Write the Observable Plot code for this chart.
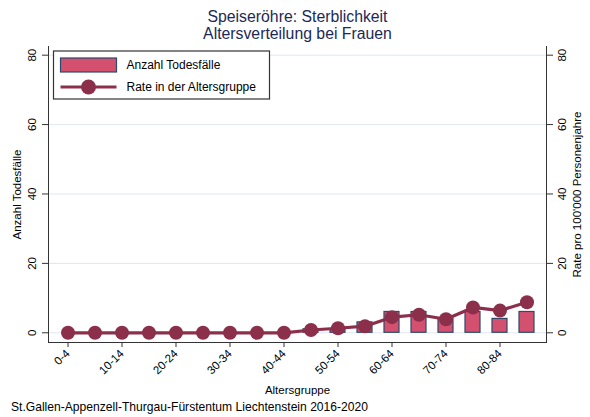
<!DOCTYPE html>
<html>
<head>
<meta charset="utf-8">
<script src="https://cdn.jsdelivr.net/npm/d3@7"></script>
<script src="https://cdn.jsdelivr.net/npm/@observablehq/plot@0.6"></script>
<style>
  html, body { margin: 0; padding: 0; background: #fff; }
  body { width: 590px; height: 417px; position: relative; overflow: hidden; font-family: "Liberation Sans", Arial, sans-serif; }
  #title { position: absolute; left: 0; top: 7.5px; width: 595px; text-align: center; font-size: 15.8px; line-height: 17.7px; color: #1b2a55; }
  #chart { position: absolute; left: 0; top: 40px; }
  #caption { position: absolute; left: 11px; top: 401px; font-size: 12.1px; line-height: 12px; color: #000; white-space: nowrap; }
</style>
</head>
<body>
<div id="title">Speiseröhre: Sterblichkeit<br>Altersverteilung bei Frauen</div>
<div id="chart"></div>
<div id="caption">St.Gallen-Appenzell-Thurgau-Fürstentum Liechtenstein 2016-2020</div>
<script>
const categories = ["0-4","5-9","10-14","15-19","20-24","25-29","30-34","35-39","40-44","45-49","50-54","55-59","60-64","65-69","70-74","75-79","80-84","85+"];
const deaths = [0,0,0,0,0,0,0,0,0,1,1,3,6,6,4,6,4,6];
const rates = [0,0,0,0,0,0,0,0,0,0.8,1.3,1.9,4.5,5.2,3.9,7.3,6.4,8.8];
const xTickLabels = ["0-4","10-14","20-24","30-34","40-44","50-54","60-64","70-74","80-84"];
const yTicks = [0,20,40,60,80];
const legendLabels = ["Anzahl Todesfälle","Rate in der Altersgruppe"];

const data = categories.map((c, i) => ({age: c, deaths: deaths[i], rate: rates[i]}));

const barFill = "#d4506f";
const barStroke = "#2c4a6c";
const lineColor = "#8b2f4b";
const axisColor = "#333";

const chart = Plot.plot({
  width: 590,
  height: 357,
  marginLeft: 48,
  marginRight: 44,
  marginTop: 6,
  marginBottom: 55,
  style: {fontFamily: "'Liberation Sans', Arial, sans-serif", fontSize: "11.5px", color: "#000", background: "transparent", overflow: "visible"},
  x: {type: "band", domain: categories, paddingInner: 0.45, paddingOuter: 0.395},
  y: {domain: [-2.8, 82.5]},
  marks: [
    Plot.gridY(yTicks, {stroke: "#dfe8ef", strokeOpacity: 1, strokeWidth: 1}),
    Plot.frame({anchor: "left", stroke: axisColor}),
    Plot.frame({anchor: "right", stroke: axisColor}),
    Plot.frame({anchor: "bottom", stroke: axisColor}),
    Plot.barY(data, {x: "age", y1: 0, y2: "deaths", fill: barFill, stroke: barStroke, strokeWidth: 1.2}),
    Plot.line(data, {x: "age", y: "rate", stroke: lineColor, strokeWidth: 3.2}),
    Plot.dot(data, {x: "age", y: "rate", r: 7, fill: lineColor, stroke: "none"}),
    Plot.axisX({ticks: xTickLabels, tickRotate: -45, tickSize: 5, tickPadding: 4, stroke: axisColor,
      label: "Altersgruppe", labelAnchor: "center", labelArrow: "none", labelOffset: 51, fontSize: 11.5}),
    Plot.axisY({anchor: "left", ticks: yTicks, tickRotate: -90, tickSize: 6, tickPadding: 7, stroke: axisColor,
      label: "Anzahl Todesfälle", labelAnchor: "center", labelArrow: "none", labelOffset: 36}),
    Plot.axisY({anchor: "right", ticks: yTicks, tickRotate: -90, tickSize: 6, tickPadding: 13, stroke: axisColor,
      label: "Rate pro 100'000 Personenjahre", labelAnchor: "center", labelArrow: "none", labelOffset: 34})
  ]
});
document.getElementById("chart").appendChild(chart);

// Legend overlay (inside the plot area, top-left)
const svg = d3.select(chart);
const lg = svg.append("g").attr("transform", "translate(53.5,11)");
lg.append("rect").attr("x", 0).attr("y", 0).attr("width", 216).attr("height", 48)
  .attr("fill", "#fff").attr("stroke", axisColor).attr("stroke-width", 1.2);
lg.append("rect").attr("x", 7).attr("y", 7).attr("width", 56).attr("height", 14)
  .attr("fill", barFill).attr("stroke", barStroke).attr("stroke-width", 1.2);
lg.append("line").attr("x1", 7).attr("x2", 63).attr("y1", 36).attr("y2", 36)
  .attr("stroke", lineColor).attr("stroke-width", 3.2);
lg.append("circle").attr("cx", 35).attr("cy", 36).attr("r", 7.5).attr("fill", lineColor);
lg.selectAll("text.lab").data(legendLabels).join("text").attr("class", "lab")
  .attr("x", 73).attr("y", (d, i) => i === 0 ? 14 : 36).attr("dy", "0.35em")
  .attr("text-anchor", "start")
  .attr("font-size", 12).attr("fill", "#000").text(d => d);
</script>
</body>
</html>
